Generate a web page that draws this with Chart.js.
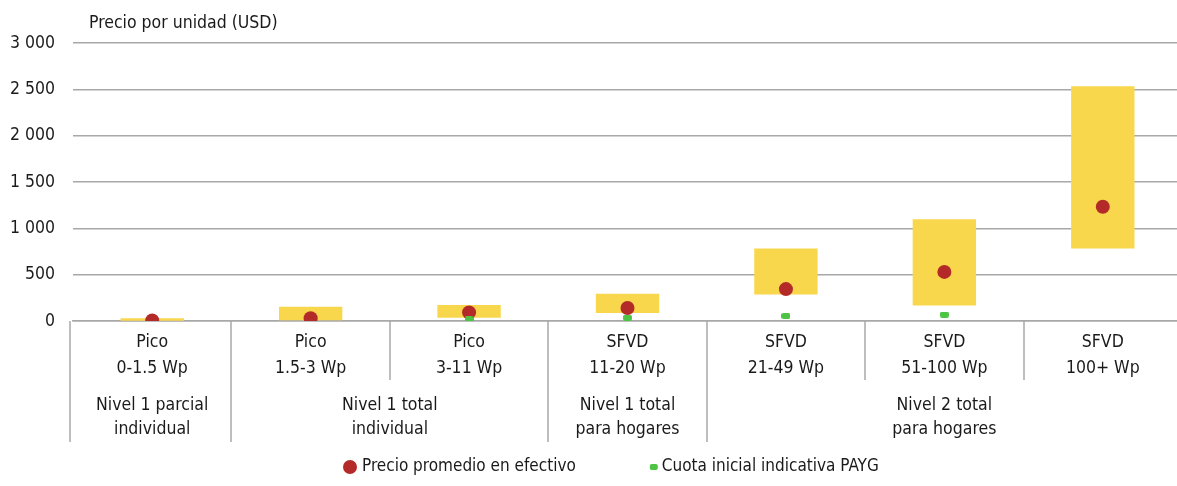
<!DOCTYPE html>
<html>
<head>
<meta charset="utf-8">
<script src="https://cdn.jsdelivr.net/npm/chart.js@4.4.1/dist/chart.umd.min.js"></script>
<style>
  html, body { margin: 0; padding: 0; background: #ffffff; }
  #wrap { width: 1177px; height: 486px; position: relative; }
</style>
</head>
<body>
<div id="wrap"><canvas id="chart"></canvas></div>
<script>
const FONT = "'DejaVu Sans Condensed', 'Liberation Sans', sans-serif";

const categories = [
  ["Pico", "0-1.5 Wp"],
  ["Pico", "1.5-3 Wp"],
  ["Pico", "3-11 Wp"],
  ["SFVD", "11-20 Wp"],
  ["SFVD", "21-49 Wp"],
  ["SFVD", "51-100 Wp"],
  ["SFVD", "100+ Wp"],
];

// price range per category (low, high)
const rangeLow = [3, 0, 36, 86, 287, 168, 782];
const rangeHigh = [29, 154, 172, 294, 782, 1097, 2534];

const avgCashPrice = [5, 29, 93, 140, 344, 530, 1233];
const paygDeposit = [null, null, 18, 35, 54, 70, null];

// groups: label lines and [first, last] category index
const groupLabels = [
  ["Nivel 1 parcial", "individual"],
  ["Nivel 1 total", "individual"],
  ["Nivel 1 total", "para hogares"],
  ["Nivel 2 total", "para hogares"],
];
const groupSpans = [[0, 0], [1, 2], [3, 3], [4, 6]];

const yTicks = [0, 500, 1000, 1500, 2000, 2500, 3000];

const legendNames = ["Precio promedio en efectivo", "Cuota inicial indicativa PAYG"];

const COLORS = {
  range: "#F9D74C",
  cash: "#B42A28",
  payg: "#4DC444",
  grid: "#A8A8A8",
  text: "#1a1a1a",
};

function formatThousands(value) {
  return String(value).replace(/\B(?=(\d{3})+(?!\d))/g, " ");
}

function paygMarker() {
  const c = document.createElement("canvas");
  c.width = 9;
  c.height = 6;
  const g = c.getContext("2d");
  g.fillStyle = COLORS.payg;
  g.beginPath();
  g.roundRect(0, 0, 9, 6, 2);
  g.fill();
  return c;
}

// the source plot runs a few pixels past the right edge of the picture
const extendRightPlugin = {
  id: "extendRight",
  afterLayout(chart) {
    const s = chart.scales.x;
    s.right += 5;
    s.width += 5;
    s.configure();
    chart.chartArea.right += 5;
    chart.chartArea.width += 5;
  },
};

const groupAxisPlugin = {
  id: "groupAxis",
  afterDraw(chart) {
    const { ctx, chartArea } = chart;
    const x = chart.scales.x;
    const half = (x.getPixelForValue(1) - x.getPixelForValue(0)) / 2;
    const top = chartArea.bottom;

    const groupStarts = groupSpans.map((span) => span[0]);

    ctx.save();
    ctx.strokeStyle = COLORS.grid;
    ctx.lineWidth = 1.5;
    categories.forEach((_, i) => {
      let px = Math.round(x.getPixelForValue(i) - half);
      if (i === 0) px -= 3;
      const long = groupStarts.includes(i);
      ctx.beginPath();
      ctx.moveTo(px, top);
      ctx.lineTo(px, long ? 442 : 380);
      ctx.stroke();
    });

    ctx.fillStyle = COLORS.text;
    ctx.font = "17.5px " + FONT;
    ctx.textAlign = "center";
    ctx.textBaseline = "middle";
    groupLabels.forEach((lines, i) => {
      const [a, b] = groupSpans[i];
      const cx = (x.getPixelForValue(a) + x.getPixelForValue(b)) / 2;
      lines.forEach((line, j) => {
        ctx.fillText(line, cx, 405 + j * 24);
      });
    });

    // axis unit label
    ctx.textAlign = "left";
    ctx.fillText("Precio por unidad (USD)", 89, 23);

    // legend
    ctx.font = "17px " + FONT;
    const w1 = ctx.measureText(legendNames[0]).width;
    let lx = 343;
    const ly = 467;
    ctx.fillStyle = COLORS.cash;
    ctx.beginPath();
    ctx.arc(lx + 7, ly, 7, 0, Math.PI * 2);
    ctx.fill();
    lx += 19;
    ctx.fillStyle = COLORS.text;
    ctx.fillText(legendNames[0], lx, ly);
    lx += w1 + 74;
    ctx.fillStyle = COLORS.payg;
    ctx.beginPath();
    ctx.roundRect(lx, ly - 3, 8, 6, 2);
    ctx.fill();
    lx += 12;
    ctx.fillStyle = COLORS.text;
    ctx.fillText(legendNames[1], lx, ly);
    ctx.restore();
  },
};

new Chart(document.getElementById("chart"), {
  data: {
    labels: categories,
    datasets: [
      {
        type: "line",
        label: legendNames[1],
        data: paygDeposit,
        showLine: false,
        pointStyle: paygMarker(),
        pointRadius: 5,
        pointHoverRadius: 5,
        backgroundColor: COLORS.payg,
        borderWidth: 0,
        order: 1,
      },
      {
        type: "line",
        label: legendNames[0],
        data: avgCashPrice,
        showLine: false,
        pointStyle: "circle",
        pointRadius: 7,
        pointHoverRadius: 7,
        backgroundColor: COLORS.cash,
        borderWidth: 0,
        order: 2,
      },
      {
        type: "bar",
        label: "Rango",
        data: rangeLow.map((low, i) => [low, rangeHigh[i]]),
        backgroundColor: COLORS.range,
        borderWidth: 0,
        categoryPercentage: 1,
        barPercentage: 0.4,
        order: 3,
      },
    ],
  },
  options: {
    responsive: true,
    maintainAspectRatio: false,
    animation: false,
    layout: {
      autoPadding: false,
      padding: { top: 43, right: 0, left: 0, bottom: 0 },
    },
    scales: {
      x: {
        type: "category",
        offset: true,
        grid: { display: false, drawTicks: false },
        border: { display: true, color: COLORS.grid, width: 1.5 },
        ticks: {
          color: COLORS.text,
          font: { family: FONT, size: 17.5, lineHeight: 1.46 },
          padding: 9,
          maxRotation: 0,
          autoSkip: false,
        },
        afterFit(scale) {
          scale.height = 165;
          scale.paddingLeft = 0;
          scale.paddingRight = 0;
        },
      },
      y: {
        min: 0,
        max: 3000,
        afterBuildTicks(scale) {
          scale.ticks = yTicks.map((value) => ({ value }));
        },
        grid: { color: COLORS.grid, lineWidth: 1.5, drawTicks: false },
        border: { display: false },
        ticks: {
          color: COLORS.text,
          font: { family: FONT, size: 17.5 },
          padding: 18,
          callback: (value) => formatThousands(value),
        },
        afterFit(scale) {
          scale.width = 73;
        },
      },
    },
    plugins: {
      legend: { display: false },
      tooltip: { enabled: false },
    },
  },
  plugins: [extendRightPlugin, groupAxisPlugin],
});
</script>
</body>
</html>
